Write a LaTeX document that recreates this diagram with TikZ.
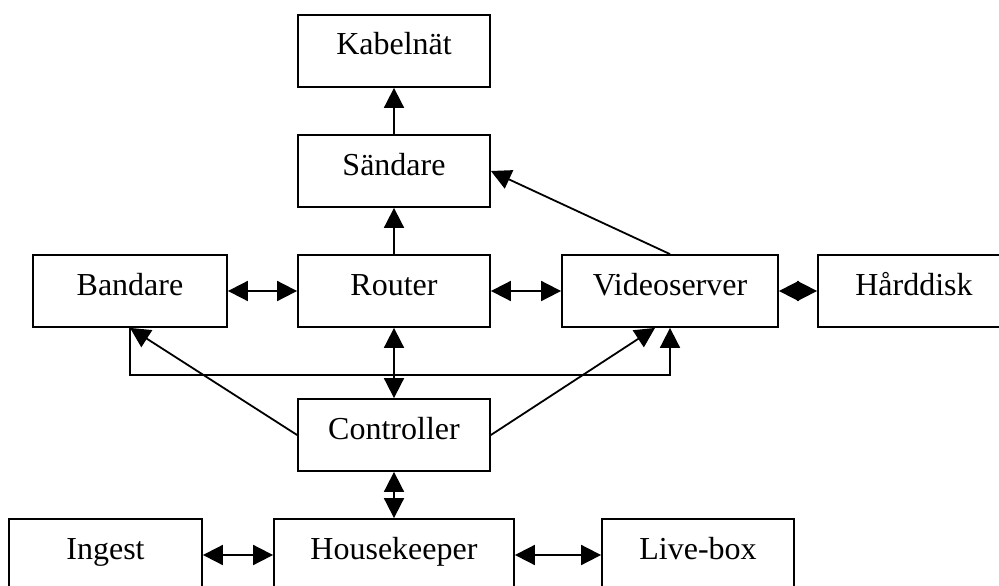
\documentclass[tikz,border=0pt]{standalone}
\usepackage{fontspec}
\setmainfont{Liberation Serif}
\usetikzlibrary{arrows.meta}
\tikzset{
  unit/.style={draw,line width=1.8pt,minimum height=72pt,minimum width=192pt,inner sep=0pt,
    font=\fontsize{32}{32}\selectfont,text height=12pt,text depth=4pt},
  arr/.style={line width=1.8pt,-{Triangle[length=20pt,width=20pt]}},
  darr/.style={line width=1.8pt,{Triangle[length=20pt,width=20pt]}-{Triangle[length=20pt,width=20pt]}}
}
\begin{document}
\begin{tikzpicture}[x=1pt,y=-1pt]
	\useasboundingbox[clip] (0,0) rectangle (999,586);
	% top column
	\node[unit] (kabel) at (394,51) {Kabelnät};
	\node[unit] (sand) at (394,171) {Sändare};
	% middle row
	\node[unit,minimum width=194pt] (band) at (130,291) {Bandare};
	\node[unit] (router) at (394,291) {Router};
	\node[unit,minimum width=216pt] (video) at (670,291) {Videoserver};
	\node[unit] (hdd) at (914,291) {Hårddisk};
	\node[unit] (ctrl) at (394,435) {Controller};
	% bottom row
	\node[unit,minimum width=193pt] (ingest) at (105.5,555) {Ingest};
	\node[unit,minimum width=240pt] (house) at (394,555) {Housekeeper};
	\node[unit] (live) at (698,555) {Live-box};

	\draw[arr] (sand) -- (kabel);
	\draw[arr] (router) -- (sand);
	\draw[arr] (video.north) -- (sand.east);
	\draw[darr] (band) -- (router);
	\draw[darr] (router) -- (video);
	\draw[darr] (video) -- (hdd);
	\draw[darr] (router) -- (ctrl);
	\draw[arr] (band.south) -- ++(0,47) -| (video.south);
	\draw[arr] (ctrl.west) -- (band.south);
	\draw[arr] (ctrl.east) -- ([xshift=-15pt]video.south);
	\draw[darr] (ctrl) -- (house);
	\draw[darr] (ingest) -- (house);
	\draw[darr] (house) -- (live);
\end{tikzpicture}
\end{document}
